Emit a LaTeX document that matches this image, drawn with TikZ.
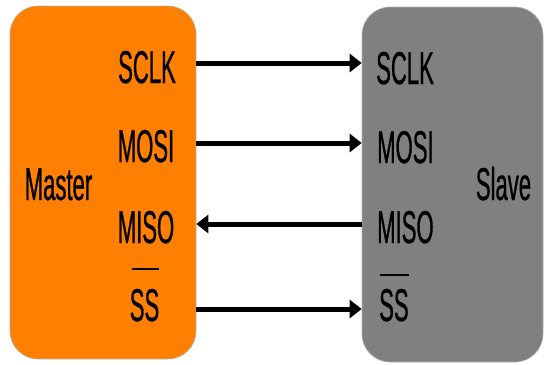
\documentclass[tikz,border=0pt]{standalone}
\usepackage{fontspec}
\usetikzlibrary{arrows.meta}
\newfontfamily\lblfont[FakeStretch=0.48,FakeBold=0.6]{Liberation Sans}
\definecolor{masterorange}{RGB}{255,128,0}
\definecolor{slavegray}{RGB}{128,128,128}
\tikzset{
  unit/.style={rounded corners=28pt, draw=black!30, line width=0.6pt, inner sep=0pt},
  lbl/.style={font=\lblfont\fontsize{46}{46}\selectfont, inner sep=0pt, text=black},
  sig/.style={line width=5pt, -{Triangle[length=12pt,width=18pt]}},
  bar/.style={line width=2pt}
}
\begin{document}
\begin{tikzpicture}[x=1pt,y=-1pt]
  \useasboundingbox (0,0) rectangle (546,364);
  % device blocks
  \node[unit, fill=masterorange, minimum width=186pt, minimum height=353pt] (master) at (103,182.5) {};
  \node[unit, fill=slavegray, minimum width=181pt, minimum height=355pt] (slave) at (452.5,184.5) {};
  % device names
  \node[lbl, anchor=base] (mname) at (58.5,200) {Master};
  \node[lbl, anchor=base] (sname) at (503.5,200) {Slave};
  % master pins
  \node[lbl, anchor=base] (sclkM) at (147,83) {SCLK};
  \node[lbl, anchor=base] (mosiM) at (146,162) {MOSI};
  \node[lbl, anchor=base] (misoM) at (146,243) {MISO};
  \node[lbl, anchor=base] (ssM) at (144.5,321) {SS};
  % slave pins
  \node[lbl, anchor=base west] (sclkS) at (376,84) {SCLK};
  \node[lbl, anchor=base west] (mosiS) at (377,163) {MOSI};
  \node[lbl, anchor=base west] (misoS) at (377,243) {MISO};
  \node[lbl, anchor=base west] (ssS) at (379,321) {SS};
  % active-low bars over SS
  \draw[bar] ([yshift=20pt,xshift=2pt]ssM.north west) -- ([yshift=20pt]ssM.north east);
  \draw[bar] ([yshift=14pt,xshift=1pt]ssS.north west) -- ([yshift=14pt]ssS.north east);
  % signal lines
  \draw[sig] (master.east |- 0,63) -- (slave.west |- 0,63);
  \draw[sig] (master.east |- 0,143) -- (slave.west |- 0,143);
  \draw[sig] (slave.west |- 0,224) -- (master.east |- 0,224);
  \draw[sig] (master.east |- 0,309) -- (slave.west |- 0,309);
\end{tikzpicture}
\end{document}
